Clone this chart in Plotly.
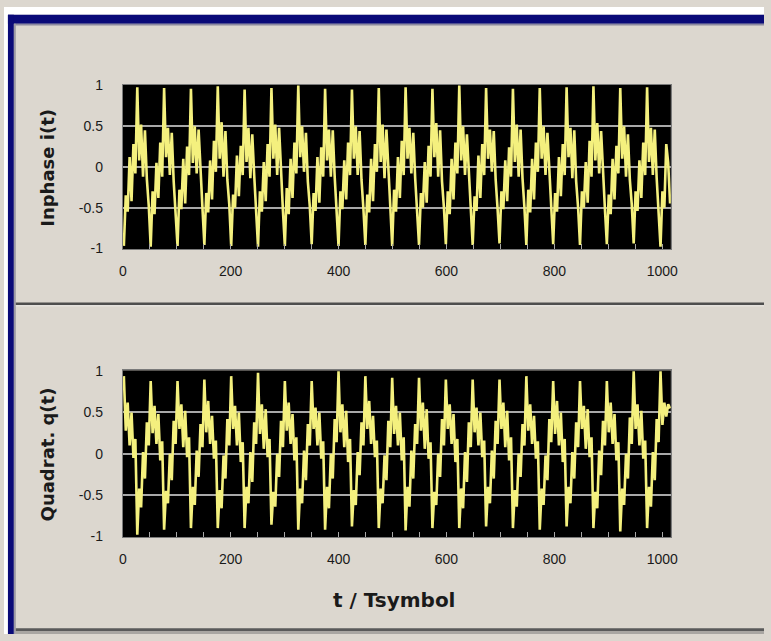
import plotly.graph_objects as go

# ---------------- data ----------------
X_TICKS = [0, 200, 400, 600, 800, 1000]
Y_TICKS = [-1, -0.5, 0, 0.5, 1]
Y_TICK_TEXT = ["-1", "-0.5", "0", "0.5", "1"]

T_START = 2.0          # first sample position (t / Tsymbol)
T_STEP = 3.553

inphase = [
    -0.97, -0.35, -0.55, 0.12, -0.42, 0.28, -0.08, 0.98, 0.08, 0.52, -0.12, 0.45, -0.15, -0.48,
    -0.98, -0.30, -0.58, 0.05, -0.38, 0.30, -0.12, 0.97, 0.12, 0.48, -0.10, 0.42, -0.18, -0.52,
    -0.97, -0.28, -0.52, 0.10, -0.45, 0.25, -0.10, 0.96, 0.05, 0.50, -0.08, 0.46, -0.12, -0.50,
    -0.96, -0.32, -0.56, 0.08, -0.40, 0.32, -0.06, 0.99, 0.10, 0.55, -0.12, 0.44, -0.16, -0.46,
    -0.97, -0.34, -0.50, 0.14, -0.36, 0.26, -0.10, 0.95, 0.06, 0.48, -0.14, 0.40, -0.10, -0.50,
    -0.98, -0.30, -0.55, 0.06, -0.42, 0.28, -0.12, 0.97, 0.10, 0.52, -0.10, 0.48, -0.14, -0.54,
    -0.97, -0.26, -0.58, 0.10, -0.38, 0.30, -0.08, 1.00, 0.12, 0.50, -0.06, 0.42, -0.18, -0.48,
    -0.95, -0.32, -0.54, 0.12, -0.44, 0.24, -0.12, 0.96, 0.08, 0.46, -0.12, 0.45, -0.12, -0.50,
    -0.97, -0.30, -0.52, 0.08, -0.40, 0.30, -0.10, 0.95, 0.10, 0.50, -0.10, 0.44, -0.16, -0.52,
    -0.96, -0.34, -0.56, 0.10, -0.42, 0.28, -0.06, 0.97, 0.06, 0.52, -0.14, 0.46, -0.10, -0.48,
    -0.97, -0.28, -0.55, 0.12, -0.38, 0.32, -0.10, 0.98, 0.10, 0.48, -0.08, 0.42, -0.14, -0.50,
    -0.96, -0.32, -0.50, 0.06, -0.44, 0.26, -0.12, 0.96, 0.12, 0.54, -0.12, 0.45, -0.18, -0.50,
    -0.95, -0.30, -0.58, 0.10, -0.40, 0.30, -0.08, 1.00, 0.08, 0.50, -0.10, 0.40, -0.12, -0.46,
    -0.96, -0.36, -0.54, 0.14, -0.38, 0.28, -0.10, 0.97, 0.10, 0.46, -0.06, 0.44, -0.16, -0.52,
    -0.94, -0.30, -0.52, 0.08, -0.42, 0.24, -0.12, 0.96, 0.06, 0.52, -0.12, 0.46, -0.14, -0.50,
    -0.96, -0.28, -0.56, 0.10, -0.40, 0.30, -0.06, 0.97, 0.10, 0.50, -0.10, 0.42, -0.10, -0.48,
    -0.95, -0.32, -0.55, 0.12, -0.36, 0.28, -0.10, 0.98, 0.12, 0.48, -0.14, 0.45, -0.18, -0.50,
    -0.96, -0.30, -0.50, 0.06, -0.44, 0.32, -0.12, 0.99, 0.08, 0.54, -0.08, 0.44, -0.12, -0.52,
    -0.95, -0.34, -0.58, 0.10, -0.40, 0.26, -0.08, 0.97, 0.10, 0.50, -0.12, 0.40, -0.16, -0.46,
    -0.94, -0.30, -0.54, 0.08, -0.38, 0.30, -0.10, 0.98, 0.06, 0.48, -0.10, 0.46, -0.14, -0.50,
    -0.98, -0.30, -0.50, 0.28, 0.05, -0.45,
]

quadrature = [
    0.94, 0.28, 0.62, 0.10, 0.50, -0.05, 0.18, -0.98, -0.42, -0.65, 0.02, -0.30, 0.38, 0.10,
    0.88, 0.25, 0.58, 0.12, 0.48, -0.08, 0.15, -0.92, -0.45, -0.60, 0.00, -0.32, 0.40, 0.12,
    0.88, 0.30, 0.60, 0.08, 0.52, -0.04, 0.20, -0.90, -0.40, -0.62, 0.04, -0.28, 0.36, 0.08,
    0.90, 0.26, 0.64, 0.12, 0.46, -0.06, 0.16, -0.90, -0.44, -0.66, -0.02, -0.30, 0.42, 0.10,
    0.94, 0.30, 0.58, 0.10, 0.50, -0.10, 0.14, -0.90, -0.40, -0.60, 0.02, -0.34, 0.38, 0.12,
    0.98, 0.24, 0.60, 0.06, 0.54, -0.04, 0.18, -0.86, -0.46, -0.64, 0.00, -0.28, 0.40, 0.08,
    0.88, 0.28, 0.62, 0.12, 0.48, -0.08, 0.20, -0.92, -0.42, -0.60, 0.04, -0.32, 0.36, 0.10,
    0.88, 0.30, 0.56, 0.10, 0.50, -0.06, 0.15, -0.92, -0.40, -0.66, 0.00, -0.30, 0.42, 0.14,
    1.00, 0.26, 0.60, 0.08, 0.52, -0.10, 0.18, -0.88, -0.44, -0.62, 0.02, -0.26, 0.38, 0.10,
    0.94, 0.30, 0.64, 0.12, 0.46, -0.04, 0.16, -0.90, -0.42, -0.60, -0.02, -0.32, 0.40, 0.08,
    0.92, 0.24, 0.58, 0.10, 0.50, -0.08, 0.20, -0.93, -0.40, -0.64, 0.04, -0.30, 0.36, 0.12,
    0.92, 0.28, 0.62, 0.06, 0.54, -0.06, 0.14, -0.90, -0.46, -0.62, 0.00, -0.28, 0.42, 0.10,
    0.90, 0.30, 0.60, 0.12, 0.48, -0.10, 0.18, -0.90, -0.42, -0.66, 0.02, -0.34, 0.38, 0.08,
    0.90, 0.26, 0.56, 0.10, 0.50, -0.04, 0.16, -0.88, -0.40, -0.60, 0.04, -0.30, 0.40, 0.12,
    0.90, 0.30, 0.62, 0.08, 0.52, -0.08, 0.20, -0.90, -0.44, -0.64, 0.00, -0.28, 0.36, 0.10,
    0.94, 0.28, 0.60, 0.12, 0.46, -0.06, 0.15, -0.92, -0.42, -0.62, -0.02, -0.32, 0.42, 0.14,
    0.88, 0.24, 0.64, 0.10, 0.50, -0.10, 0.18, -0.88, -0.40, -0.60, 0.02, -0.30, 0.38, 0.08,
    0.88, 0.30, 0.58, 0.06, 0.54, -0.04, 0.20, -0.90, -0.46, -0.66, 0.04, -0.26, 0.40, 0.10,
    0.88, 0.26, 0.62, 0.12, 0.48, -0.08, 0.14, -0.94, -0.42, -0.62, 0.00, -0.30, 0.44, 0.12,
    1.00, 0.30, 0.60, 0.10, 0.52, -0.06, 0.16, -0.90, -0.40, -0.64, 0.02, -0.32, 0.42, 0.14,
    1.00, 0.35, 0.62, 0.45, 0.60, 0.55,
]

t_inphase = [T_START + k * T_STEP for k in range(len(inphase))]
t_quad = [T_START + k * T_STEP for k in range(len(quadrature))]

# ---------------- layout helpers ----------------
W, H = 771, 641
BG = "#dcd7cf"
LINE = "#f4f07e"
GRID = "#a8a8a8"
FONT = "Liberation Sans, Arial, sans-serif"
TFONT = "DejaVu Sans, sans-serif"


def px(x):
    return x / W


def py(y):
    return 1 - y / H


fig = go.Figure()
fig.add_trace(go.Scatter(x=t_inphase, y=inphase, mode="lines",
                         line=dict(color=LINE, width=2.6), xaxis="x", yaxis="y",
                         showlegend=False, hoverinfo="skip"))
fig.add_trace(go.Scatter(x=t_quad, y=quadrature, mode="lines",
                         line=dict(color=LINE, width=2.6), xaxis="x2", yaxis="y2",
                         showlegend=False, hoverinfo="skip"))

xdom = [px(120.5), px(676.5)]


def xaxis_cfg(anchor):
    return dict(domain=xdom, anchor=anchor, range=[0, 1016],
                tickvals=X_TICKS, ticks="inside", ticklen=5, tickcolor=GRID,
                minor=dict(dtick=50, tick0=0, ticks="inside", ticklen=5, tickcolor=GRID),
                showgrid=False, zeroline=False, showline=True, linecolor="#7a7a7a",
                linewidth=1, mirror=True, ticklabelstandoff=9,
                tickfont=dict(family=FONT, size=14, color="#1a1a1a"))


def yaxis_cfg(dom, anchor):
    return dict(domain=dom, anchor=anchor, range=[-1.01, 1.01],
                tickvals=Y_TICKS, ticktext=Y_TICK_TEXT, ticks="",
                showgrid=True, gridcolor=GRID, gridwidth=2, zeroline=False,
                showline=True, linecolor="#7a7a7a", linewidth=1, mirror=True,
                ticklabelstandoff=16,
                tickfont=dict(family=FONT, size=14, color="#1a1a1a"))


def rect(x0, y0, x1, y1, color):
    return dict(type="rect", xref="paper", yref="paper", layer="below",
                x0=px(x0), x1=px(x1), y0=py(y1), y1=py(y0),
                fillcolor=color, line=dict(width=0))


shapes = [
    rect(0, 0, W, 8, "#ffffff"),
    rect(0, 0, 4, H, "#ffffff"),
    rect(4, 8, W, 17, "#0a0a78"),
    rect(10, 17, W, 19, "#8c8aa0"),
    rect(4, 8, 10, H, "#0a0a78"),
    rect(10, 17, 12, H, "#9c9aa4"),
    rect(12, 302, W, 305, "#4e4e4e"),
    rect(12, 305, W, 306, "#f4f2ee"),
    rect(12, 635, W, 638, "#5a5a5a"),
    rect(12, 638, W, H, "#a9a6a2"),
]


def label(text, x, y, size, angle=0):
    return dict(text=text, x=px(x), y=py(y), xref="paper", yref="paper",
                xanchor="center", yanchor="middle", showarrow=False,
                textangle=angle, font=dict(family=TFONT, size=size, color="#1a1a1a"))


annotations = [
    label("<b>Inphase i(t)</b>", 44, 164, 18, -90),
    label("<b>Quadrat. q(t)</b>", 44, 457, 18, -90),
    label("<b>t / Tsymbol</b>", 396, 606, 20),
]

fig.update_layout(
    width=W, height=H, margin=dict(l=0, r=0, t=0, b=0),
    paper_bgcolor=BG, plot_bgcolor="#000000",
    xaxis=xaxis_cfg("y"),
    yaxis=yaxis_cfg([py(247.5), py(79.5)], "x"),
    xaxis2=xaxis_cfg("y2"),
    yaxis2=yaxis_cfg([py(542), py(371.5)], "x2"),
    shapes=shapes, annotations=annotations,
)

fig.write_html("out.html", config={"displayModeBar": False, "staticPlot": True},
               post_script="document.body.style.margin='0';document.body.style.overflow='hidden';")
